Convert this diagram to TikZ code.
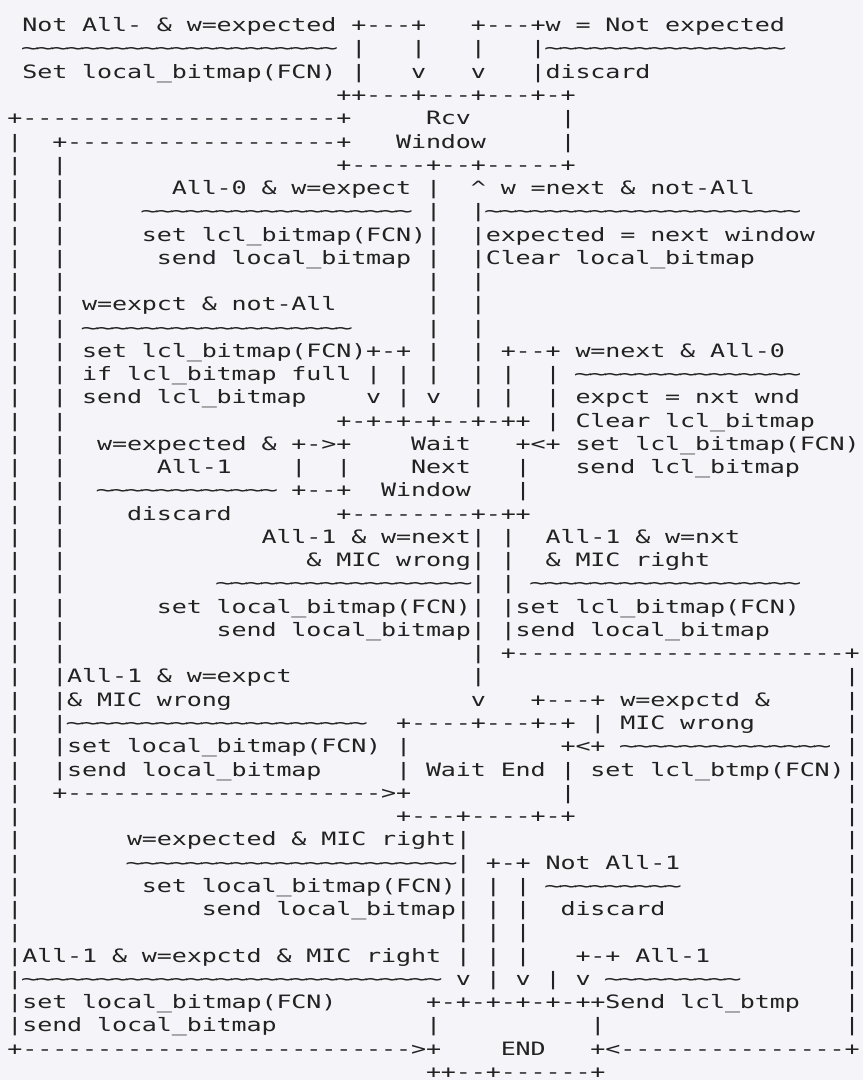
\documentclass[tikz,border=0pt]{standalone}
\usepackage{fontspec}
\usepackage{graphicx}
\newfontfamily\asciifont{DejaVu Sans Mono}
\definecolor{bgcol}{HTML}{F5F5F9}
\definecolor{ink}{HTML}{222222}
\newdimen\cellw \cellw=14.95pt
\newcount\ascn
\makeatletter
\def\asc@loop#1{\ifx#1\relax\else\asc@cell#1\expandafter\asc@loop\fi}
\def\asc@cell#1{\if.#1\hbox to\cellw{\hss\char32\hss}\else\if\string~#1\hbox to\cellw{\hss\scalebox{1.65}[1]{#1}\hss}\else\hbox to\cellw{\hss\scalebox{1.36}[1]{#1}\hss}\fi\fi}
\newcommand\ascrun[1]{\expandafter\asc@loop\detokenize{#1}\relax}
\newcommand\seg[2]{\rlap{\kern#1\cellw\ascrun{#2}}}
\newcommand\rep[3]{\rlap{\kern#1\cellw\ascn=#2\relax\loop\ifnum\ascn>0 \expandafter\asc@cell\detokenize{#3}\advance\ascn-1 \repeat}}
\newcommand\ascrow[1]{\hbox to 57\cellw{\asciifont\fontsize{18.4pt}{18.4pt}\selectfont\color{ink}#1\hfil}}
\makeatother
\tikzset{asc/.style={anchor=base west,inner sep=0pt,outer sep=0pt}}
\begin{document}
\begin{tikzpicture}[x=1pt,y=-1pt]
\useasboundingbox (0,0) rectangle (863,1080);
\fill[bgcol] (0,0) rectangle (863,1080);
\node[asc] (l1) at (7.5,{31.7+23.26*0}) {\ascrow{\seg{1}{Not.All-.&.w=expected}\seg{23}{+---+}\seg{31}{+---+w.=.Not.expected}}};
\node[asc] (l2) at (7.5,{31.7+23.26*1}) {\ascrow{\rep{1}{21}{~}\seg{23}{|...|...|...|}\rep{36}{16}{~}}};
\node[asc] (l3) at (7.5,{31.7+23.26*2}) {\ascrow{\seg{1}{Set.local_bitmap(FCN).|...v...v...|discard}}};
\node[asc] (l4) at (7.5,{31.7+23.26*3}) {\ascrow{\seg{22}{++---+---+---+-+}}};
\node[asc] (l5) at (7.5,{31.7+23.26*4}) {\ascrow{\seg{0}{+}\rep{1}{21}{-}\seg{22}{+}\seg{28}{Rcv}\seg{37}{|}}};
\node[asc] (l6) at (7.5,{31.7+23.26*5}) {\ascrow{\seg{0}{|}\seg{3}{+}\rep{4}{18}{-}\seg{22}{+}\seg{26}{Window}\seg{37}{|}}};
\node[asc] (l7) at (7.5,{31.7+23.26*6}) {\ascrow{\seg{0}{|}\seg{3}{|}\seg{22}{+-----+--+-----+}}};
\node[asc] (l8) at (7.5,{31.7+23.26*7}) {\ascrow{\seg{0}{|}\seg{3}{|}\seg{11}{All-0.&.w=expect.|..^.w.=next.&.not-All}}};
\node[asc] (l9) at (7.5,{31.7+23.26*8}) {\ascrow{\seg{0}{|}\seg{3}{|}\rep{9}{18}{~}\seg{28}{|..|}\rep{32}{21}{~}}};
\node[asc] (l10) at (7.5,{31.7+23.26*9}) {\ascrow{\seg{0}{|}\seg{3}{|}\seg{9}{set.lcl_bitmap(FCN)|..|expected.=.next.window}}};
\node[asc] (l11) at (7.5,{31.7+23.26*10}) {\ascrow{\seg{0}{|}\seg{3}{|}\seg{10}{send.local_bitmap.|..|Clear.local_bitmap}}};
\node[asc] (l12) at (7.5,{31.7+23.26*11}) {\ascrow{\seg{0}{|}\seg{3}{|}\seg{28}{|..|}}};
\node[asc] (l13) at (7.5,{31.7+23.26*12}) {\ascrow{\seg{0}{|}\seg{3}{|}\seg{5}{w=expct.&.not-All}\seg{28}{|..|}}};
\node[asc] (l14) at (7.5,{31.7+23.26*13}) {\ascrow{\seg{0}{|}\seg{3}{|}\rep{5}{18}{~}\seg{28}{|..|}}};
\node[asc] (l15) at (7.5,{31.7+23.26*14}) {\ascrow{\seg{0}{|}\seg{3}{|}\seg{5}{set.lcl_bitmap(FCN)+-+.|..|.+--+.w=next.&.All-0}}};
\node[asc] (l16) at (7.5,{31.7+23.26*15}) {\ascrow{\seg{0}{|}\seg{3}{|}\seg{5}{if.lcl_bitmap.full.|.|.|..|.|..|.}\rep{38}{15}{~}}};
\node[asc] (l17) at (7.5,{31.7+23.26*16}) {\ascrow{\seg{0}{|}\seg{3}{|}\seg{5}{send.lcl_bitmap....v.|.v..|.|..|.expct.=.nxt.wnd}}};
\node[asc] (l18) at (7.5,{31.7+23.26*17}) {\ascrow{\seg{0}{|}\seg{3}{|}\seg{22}{+-+-+-+--+-++.|.Clear.lcl_bitmap}}};
\node[asc] (l19) at (7.5,{31.7+23.26*18}) {\ascrow{\seg{0}{|}\seg{3}{|}\seg{6}{w=expected.&.+->+....Wait...+<+.set.lcl_bitmap(FCN)}}};
\node[asc] (l20) at (7.5,{31.7+23.26*19}) {\ascrow{\seg{0}{|}\seg{3}{|}\seg{10}{All-1....|..|....Next...|...send.lcl_bitmap}}};
\node[asc] (l21) at (7.5,{31.7+23.26*20}) {\ascrow{\seg{0}{|}\seg{3}{|}\rep{6}{12}{~}\seg{19}{+--+..Window...|}}};
\node[asc] (l22) at (7.5,{31.7+23.26*21}) {\ascrow{\seg{0}{|}\seg{3}{|}\seg{8}{discard}\seg{22}{+}\rep{23}{8}{-}\seg{31}{+-++}}};
\node[asc] (l23) at (7.5,{31.7+23.26*22}) {\ascrow{\seg{0}{|}\seg{3}{|}\seg{17}{All-1.&.w=next|.|..All-1.&.w=nxt}}};
\node[asc] (l24) at (7.5,{31.7+23.26*23}) {\ascrow{\seg{0}{|}\seg{3}{|}\seg{20}{&.MIC.wrong|.|..&.MIC.right}}};
\node[asc] (l25) at (7.5,{31.7+23.26*24}) {\ascrow{\seg{0}{|}\seg{3}{|}\rep{14}{17}{~}\seg{31}{|.|}\rep{35}{18}{~}}};
\node[asc] (l26) at (7.5,{31.7+23.26*25}) {\ascrow{\seg{0}{|}\seg{3}{|}\seg{10}{set.local_bitmap(FCN)|.|set.lcl_bitmap(FCN)}}};
\node[asc] (l27) at (7.5,{31.7+23.26*26}) {\ascrow{\seg{0}{|}\seg{3}{|}\seg{14}{send.local_bitmap|.|send.local_bitmap}}};
\node[asc] (l28) at (7.5,{31.7+23.26*27}) {\ascrow{\seg{0}{|}\seg{3}{|}\seg{31}{|.+}\rep{34}{22}{-}\seg{56}{+}}};
\node[asc] (l29) at (7.5,{31.7+23.26*28}) {\ascrow{\seg{0}{|}\seg{3}{|All-1.&.w=expct}\seg{31}{|}\seg{56}{|}}};
\node[asc] (l30) at (7.5,{31.7+23.26*29}) {\ascrow{\seg{0}{|}\seg{3}{|&.MIC.wrong}\seg{31}{v...+---+.w=expctd.&}\seg{56}{|}}};
\node[asc] (l31) at (7.5,{31.7+23.26*30}) {\ascrow{\seg{0}{|}\seg{3}{|}\rep{4}{20}{~}\seg{26}{+----+---+-+.|.MIC.wrong}\seg{56}{|}}};
\node[asc] (l32) at (7.5,{31.7+23.26*31}) {\ascrow{\seg{0}{|}\seg{3}{|set.local_bitmap(FCN).|}\seg{37}{+<+}\rep{41}{14}{~}\seg{56}{|}}};
\node[asc] (l33) at (7.5,{31.7+23.26*32}) {\ascrow{\seg{0}{|}\seg{3}{|send.local_bitmap}\seg{26}{|.Wait.End.|.set.lcl_btmp(FCN)|}}};
\node[asc] (l34) at (7.5,{31.7+23.26*33}) {\ascrow{\seg{0}{|}\seg{3}{+}\rep{4}{21}{-}\seg{25}{>+}\seg{37}{|}\seg{56}{|}}};
\node[asc] (l35) at (7.5,{31.7+23.26*34}) {\ascrow{\seg{0}{|}\seg{26}{+---+----+-+}\seg{56}{|}}};
\node[asc] (l36) at (7.5,{31.7+23.26*35}) {\ascrow{\seg{0}{|}\seg{8}{w=expected.&.MIC.right|}\seg{56}{|}}};
\node[asc] (l37) at (7.5,{31.7+23.26*36}) {\ascrow{\seg{0}{|}\rep{8}{22}{~}\seg{30}{|.+-+.Not.All-1}\seg{56}{|}}};
\node[asc] (l38) at (7.5,{31.7+23.26*37}) {\ascrow{\seg{0}{|}\seg{9}{set.local_bitmap(FCN)|.|.|}\rep{36}{9}{~}\seg{56}{|}}};
\node[asc] (l39) at (7.5,{31.7+23.26*38}) {\ascrow{\seg{0}{|}\seg{13}{send.local_bitmap|.|.|..discard}\seg{56}{|}}};
\node[asc] (l40) at (7.5,{31.7+23.26*39}) {\ascrow{\seg{0}{|}\seg{30}{|.|.|}\seg{56}{|}}};
\node[asc] (l41) at (7.5,{31.7+23.26*40}) {\ascrow{\seg{0}{|All-1.&.w=expctd.&.MIC.right.|.|.|...+-+.All-1}\seg{56}{|}}};
\node[asc] (l42) at (7.5,{31.7+23.26*41}) {\ascrow{\seg{0}{|}\rep{1}{28}{~}\seg{30}{v.|.v.|.v}\rep{40}{9}{~}\seg{56}{|}}};
\node[asc] (l43) at (7.5,{31.7+23.26*42}) {\ascrow{\seg{0}{|set.local_bitmap(FCN)}\seg{28}{+-+-+-+-+-++Send.lcl_btmp}\seg{56}{|}}};
\node[asc] (l44) at (7.5,{31.7+23.26*43}) {\ascrow{\seg{0}{|send.local_bitmap}\seg{28}{|}\seg{39}{|}\seg{56}{|}}};
\node[asc] (l45) at (7.5,{31.7+23.26*44}) {\ascrow{\seg{0}{+}\rep{1}{26}{-}\seg{27}{>+}\seg{33}{END}\seg{39}{+<}\rep{41}{15}{-}\seg{56}{+}}};
\node[asc] (l46) at (7.5,{31.7+23.26*45}) {\ascrow{\seg{28}{++--+------+}}};
\end{tikzpicture}
\end{document}
